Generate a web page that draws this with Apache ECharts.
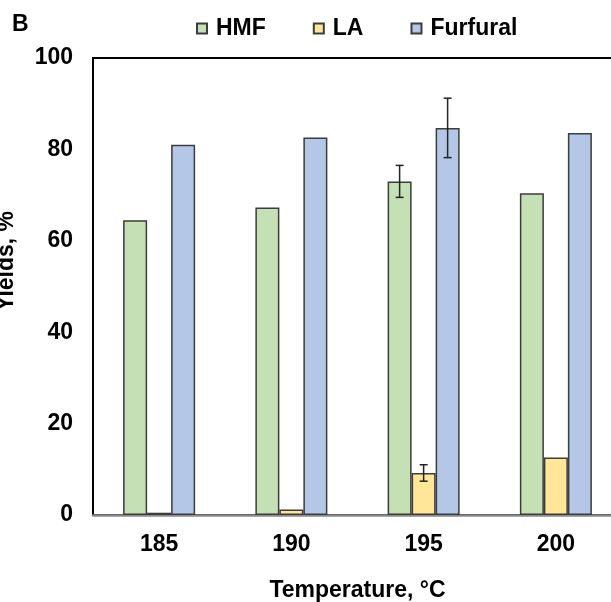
<!DOCTYPE html>
<html>
<head>
<meta charset="utf-8">
<script src="https://cdn.jsdelivr.net/npm/echarts@6/dist/echarts.min.js"></script>
<style>
  html, body { margin: 0; padding: 0; background: #fff; }
  #main { width: 611px; height: 602px; }
</style>
</head>
<body>
<div id="main"></div>
<script>
// 温度（横坐标）
const temps = ['185', '190', '195', '200'];
// 各产物收率 %
const hmf = [64.5, 67.3, 73.0, 70.4];
const la = [0.5, 1.2, 9.2, 12.6];
const furfural = [81.0, 82.6, 84.7, 83.6];
// 误差（只有195有）
const hmfErr = [0, 0, 3.5, 0];
const laErr = [0, 0, 1.8, 0];
const furfuralErr = [0, 0, 6.5, 0];

const FONT = 'Liberation Sans, Arial, sans-serif';
const FS = 23;
const BAR_W = 24;

const myChart = echarts.init(document.getElementById('main'));

// 误差线 custom series
const errSeries = (vals, errs, offset) => ({
  type: 'custom',
  silent: true,
  z: 10,
  data: vals.map((v, i) => [i, v, errs[i]]),
  renderItem: function (params, api) {
    const err = api.value(2);
    if (!err) return null;
    const top = api.coord([api.value(0), api.value(1) + err]);
    const bot = api.coord([api.value(0), api.value(1) - err]);
    const x = top[0] + offset;
    const cap = 4;
    const style = { stroke: '#222', lineWidth: 1.5 };
    return {
      type: 'group',
      children: [
        { type: 'line', shape: { x1: x, y1: top[1], x2: x, y2: bot[1] }, style: style },
        { type: 'line', shape: { x1: x - cap, y1: top[1], x2: x + cap, y2: top[1] }, style: style },
        { type: 'line', shape: { x1: x - cap, y1: bot[1], x2: x + cap, y2: bot[1] }, style: style }
      ]
    };
  }
});

const barStyle = (color) => ({ color: color, borderColor: '#3c3c3c', borderWidth: 1.5 });
const boldText = { fontSize: FS, fontWeight: 'bold', color: '#000', fontFamily: FONT };

let option = {
  animation: false,
  textStyle: { fontFamily: FONT },
  title: {
    text: 'B',
    left: 7,
    top: 8,
    textStyle: Object.assign({}, boldText)
  },
  legend: {
    left: 191,
    top: 12,
    itemWidth: 10,
    itemHeight: 10,
    itemGap: 47,
    icon: 'rect',
    data: ['HMF', 'LA', 'Furfural'],
    textStyle: Object.assign({ padding: [0, 0, 0, 4] }, boldText)
  },
  grid: {
    left: 93,
    top: 58,
    right: -11,
    bottom: 87,
    outerBoundsMode: 'none',
    show: true,
    borderColor: '#000',
    borderWidth: 2
  },
  xAxis: {
    type: 'category',
    data: temps,
    name: 'Temperature, °C',
    nameLocation: 'middle',
    nameGap: 64,
    nameTextStyle: boldText,
    axisLine: { lineStyle: { color: '#8a8a8a', width: 2.5 } },
    axisTick: { show: false },
    axisLabel: Object.assign({ margin: 18 }, boldText)
  },
  yAxis: {
    type: 'value',
    min: 0,
    max: 100,
    interval: 20,
    splitLine: { show: false },
    axisLine: { show: true, lineStyle: { color: '#000', width: 2 } },
    axisTick: { show: false },
    axisLabel: Object.assign({ margin: 20 }, boldText)
  },
  graphic: [{
    type: 'text',
    x: 7,
    y: 261,
    rotation: Math.PI / 2,
    style: {
      text: 'Yields, %',
      font: 'bold ' + FS + 'px ' + FONT,
      fill: '#000',
      align: 'center',
      verticalAlign: 'middle'
    }
  }],
  series: [
    { name: 'HMF', type: 'bar', data: hmf, barWidth: BAR_W, barGap: '0%', itemStyle: barStyle('#C5E0B4') },
    { name: 'LA', type: 'bar', data: la, barWidth: BAR_W, barGap: '0%', itemStyle: barStyle('#FFE699') },
    { name: 'Furfural', type: 'bar', data: furfural, barWidth: BAR_W, barGap: '0%', itemStyle: barStyle('#B4C7E7') },
    errSeries(hmf, hmfErr, -BAR_W),
    errSeries(la, laErr, 0),
    errSeries(furfural, furfuralErr, BAR_W)
  ]
};

myChart.setOption(option);
</script>
</body>
</html>
